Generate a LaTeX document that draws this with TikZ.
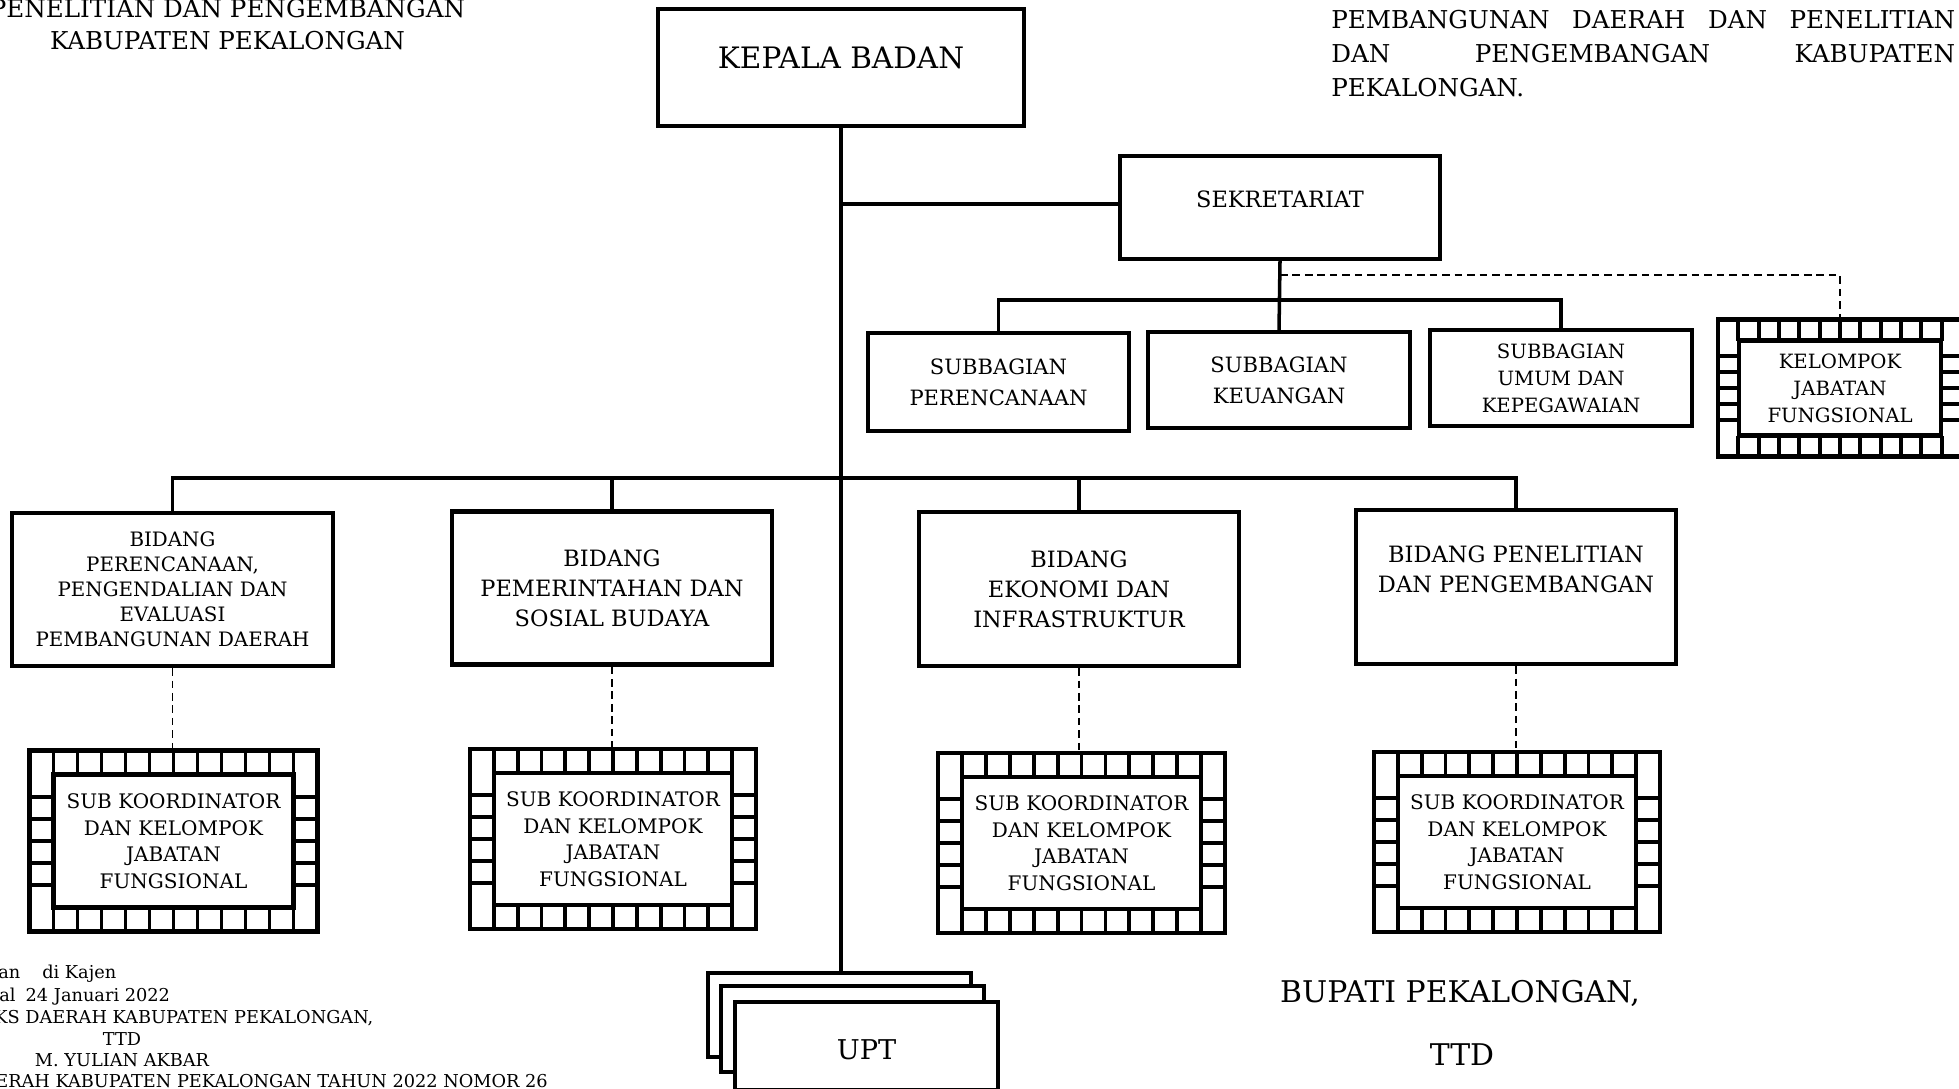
\documentclass[tikz,border=0pt]{standalone}
\usepackage{fontspec}
\setmainfont{DejaVu Serif}
\usetikzlibrary{calc}
\newcommand{\upx}{0.02cm}
\newcommand{\bingkai}[4]{%
  \draw[line width=2.6pt] (#1.north west) rectangle (#1.south east);
  \draw[line width=2.6pt] ($(#1.north west)+(#4,#4)$) rectangle ($(#1.south east)-(#4,#4)$);
  \coordinate (#1-ka) at ($(#1.north west)+(0,#4)$);
  \coordinate (#1-kb) at ($(#1.south west)-(0,#4)$);
  \coordinate (#1-na) at ($(#1.north east)+(0,#4)$);
  \coordinate (#1-nb) at ($(#1.south east)-(0,#4)$);
  \foreach \i [evaluate=\i as \f using \i/(#2+1)] in {1,...,#2} {
    \draw[line width=2.2pt] ($(#1.north west)!\f!(#1.north east)$) -- ++(0,#4);
    \draw[line width=2.2pt] ($(#1.south west)!\f!(#1.south east)$) -- ++(0,-#4);
  }
  \foreach \j [evaluate=\j as \g using \j/(#3+1)] in {1,...,#3} {
    \draw[line width=2.2pt] ($(#1-ka)!\g!(#1-kb)$) -- ++(#4,0);
    \draw[line width=2.2pt] ($(#1-na)!\g!(#1-nb)$) -- ++(-#4,0);
  }
}
\tikzset{
  kotak/.style={draw, line width=2.3pt, align=center, inner sep=0pt, fill=white},
  kotakjf/.style={align=center, inner sep=0pt, outer sep=0pt},
  ukuran/.style 2 args={minimum width=#1*\upx, minimum height=#2*\upx},
  garis/.style={line width=2pt},
  putus/.style={line width=0.85pt, dash pattern=on 4.3pt off 2.8pt},
  teks/.style={inner sep=0pt, anchor=base},
  fkepala/.style={font=\fontsize{16.8}{20}\selectfont},
  fbidang/.style={font=\fontsize{12.8}{17}\selectfont},
  fbidkecil/.style={font=\fontsize{11.3}{14.2}\selectfont},
  fsubbag/.style={font=\fontsize{12}{17.7}\selectfont},
  fumum/.style={font=\fontsize{11.2}{15.3}\selectfont},
  fsub/.style={font=\fontsize{11.4}{15.1}\selectfont},
  fupt/.style={font=\fontsize{15.5}{18}\selectfont},
  fjudul/.style={font=\fontsize{14}{18}\selectfont},
  fttd/.style={font=\fontsize{10.1}{12.4}\selectfont},
  fbupati/.style={font=\fontsize{17}{20}\selectfont}
}

\begin{document}
\begin{tikzpicture}[x=\upx, y=-\upx]
\path[use as bounding box, clip] (0,0) rectangle (1959,1088);

\node[teks, fjudul] (judul1) at (227.5,18) {PENELITIAN DAN PENGEMBANGAN};
\node[teks, fjudul] (judul2) at (227.5,50) {KABUPATEN PEKALONGAN};
\node[teks, fjudul, anchor=base west] (ket1) at (1331,29) {\makebox[355pt][s]{PEMBANGUNAN DAERAH DAN PENELITIAN}};
\node[teks, fjudul, anchor=base west] (ket2) at (1331,63) {\makebox[355pt][s]{DAN PENGEMBANGAN KABUPATEN}};
\node[teks, fjudul, anchor=base west] (ket3) at (1331,96) {PEKALONGAN.};

\node[kotak, fkepala, ukuran={366}{117}, text depth=11pt] (kepala) at (841,67.5) {KEPALA BADAN};
\node[kotak, fbidang, ukuran={320}{103}, text depth=9.5pt] (sekretariat) at (1280,207.5) {SEKRETARIAT};
\node[kotak, fsubbag, ukuran={261}{98}] (sbrenc) at (998.5,382) {SUBBAGIAN\\PERENCANAAN};
\node[kotak, fsubbag, ukuran={262}{96}] (sbkeu) at (1279,380) {SUBBAGIAN\\KEUANGAN};
\node[kotak, fumum, ukuran={262}{96}] (sbumum) at (1561,378) {SUBBAGIAN\\UMUM DAN\\KEPEGAWAIAN};
\node[kotakjf, fumum, ukuran={244}{137}] (jf) at (1840,388) {KELOMPOK\\JABATAN\\FUNGSIONAL};

\node[kotak, fbidkecil, ukuran={321}{153}] (bid1) at (172.5,589.5) {BIDANG\\PERENCANAAN,\\PENGENDALIAN DAN\\EVALUASI\\PEMBANGUNAN DAERAH};
\node[kotak, fbidang, ukuran={320}{153}] (bid2) at (612,588) {BIDANG\\PEMERINTAHAN DAN\\SOSIAL BUDAYA};
\node[kotak, fbidang, ukuran={320}{154}] (bid3) at (1079,589) {BIDANG\\EKONOMI DAN\\INFRASTRUKTUR};
\node[kotak, fbidang, ukuran={320}{154}, text depth=20.5pt] (bid4) at (1516,587) {BIDANG PENELITIAN\\DAN PENGEMBANGAN};

\node[kotakjf, fsub, ukuran={288}{181}] (sk1) at (173.5,841) {SUB KOORDINATOR\\DAN KELOMPOK\\JABATAN\\FUNGSIONAL};
\node[kotakjf, fsub, ukuran={286}{180}] (sk2) at (613,839) {SUB KOORDINATOR\\DAN KELOMPOK\\JABATAN\\FUNGSIONAL};
\node[kotakjf, fsub, ukuran={287}{180}] (sk3) at (1081.5,843) {SUB KOORDINATOR\\DAN KELOMPOK\\JABATAN\\FUNGSIONAL};
\node[kotakjf, fsub, ukuran={286}{180}] (sk4) at (1517,842) {SUB KOORDINATOR\\DAN KELOMPOK\\JABATAN\\FUNGSIONAL};

\node[kotak, ukuran={263}{84}] (upt3) at (839.5,1015) {};
\node[kotak, ukuran={263}{86}] (upt2) at (852.5,1029) {};
\node[kotak, fupt, ukuran={263}{88}, text height=15.2pt] (upt) at (866.5,1046) {UPT};

\bingkai{jf}{11}{5}{21}
\foreach \k in {1,...,4} {\bingkai{sk\k}{11}{5}{24}}

\coordinate (cab0) at (841,204);
\coordinate (cab1) at (1280,300);
\coordinate (cab2) at (1280,275);
\coordinate (cab3) at (841,478);

\draw[garis] (kepala.south) -- (kepala.south |- upt3.north);
\draw[garis] (cab0) -- (cab0 -| sekretariat.west);
\draw[garis] (sekretariat.south) -- (sbkeu.north);
\draw[garis] (sbrenc.north) |- (cab1) -| (sbumum.north);
\draw[putus] (cab2) -| (jf.north);
\draw[garis] (bid1.north) |- (cab3) -| (bid4.north);
\draw[garis] (bid2.north) -- (bid2.north |- cab3);
\draw[garis] (bid3.north) -- (bid3.north |- cab3);
\foreach \k in {1,...,4} {\draw[putus] (bid\k.south) -- (bid\k.south |- sk\k.north);}

\node[teks, fttd, anchor=base west] (tt1) at (-2,978.5) {\makebox[25pt][l]{an}di Kajen};
\node[teks, fttd, anchor=base west] (tt2) at (-1,1001.5) {\makebox[15pt][l]{al}24 Januari 2022};
\node[teks, fttd, anchor=base west] (tt3) at (-6,1023.5) {KS DAERAH KABUPATEN PEKALONGAN,};
\node[teks, fttd] (tt4) at (122,1045.5) {TTD};
\node[teks, fttd] (tt5) at (122,1066.5) {M. YULIAN AKBAR};
\node[teks, fttd, anchor=base west] (tt6) at (-5,1087.5) {ERAH KABUPATEN PEKALONGAN TAHUN 2022 NOMOR 26};

\node[teks, fbupati] (bupati) at (1460,1002) {BUPATI PEKALONGAN,};
\node[teks, fbupati] (ttd) at (1462,1065) {TTD};
\end{tikzpicture}
\end{document}
